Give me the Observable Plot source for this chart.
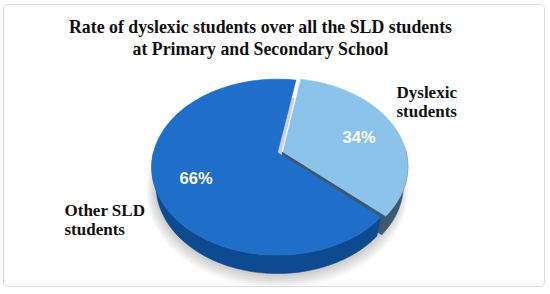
<!DOCTYPE html>
<html>
<head>
<meta charset="utf-8">
<script src="https://cdn.jsdelivr.net/npm/d3@7"></script>
<script src="https://cdn.jsdelivr.net/npm/@observablehq/plot@0.6"></script>
<style>
  html, body { margin: 0; padding: 0; background: #fff; }
  #wrap { position: relative; width: 550px; height: 294px; }
  #border { position: absolute; left: 3px; top: 4px; width: 542px; height: 283px;
            border: 1px solid #dedede; border-radius: 5px; box-sizing: border-box; }
  #chart { position: absolute; left: 0; top: 0; }
</style>
</head>
<body>
<div id="wrap"><div id="border"></div><div id="chart"></div></div>
<script>
// ---- data ----
const categories = ["Dyslexic students", "Other SLD students"];
const shares = [34, 66];
const pctLabels = ["34%", "66%"];
const categoryLabels = ["Dyslexic\nstudents", "Other SLD\nstudents"];
const titleLines = ["Rate of dyslexic students over all the SLD students", "at Primary and Secondary School"];

// ---- styling / geometry ----
const topColors = ["#8cc3ea", "#1f6fca"];
const wallColors = ["#3c5873", "#0e4a90"];
const explodeBy = [5, 0];
const labelShift = [[-2, 5], [4, 6]];
const W = 550, H = 294;
const cx = 277, cy = 152, R = 124, T = 27, D = 540;
const sinA = 0.69, cosA = Math.sqrt(1 - sinA * sinA);
const startAngle = 10;

function proj(r, deg, h, off) {
  const t = deg * Math.PI / 180;
  const xw = r * Math.sin(t) + off[0], yw = -r * Math.cos(t) + off[1];
  const c = yw * cosA + h * sinA, u = h * cosA - yw * sinA, s = D / (D - c);
  return {x: cx + xw * s, y: cy - u * s};
}
function arc(r, a0, a1, h, off) {
  const n = Math.max(2, Math.ceil(Math.abs(a1 - a0)));
  return d3.range(n + 1).map(i => proj(r, a0 + (a1 - a0) * i / n, h, off));
}

const total = d3.sum(shares);
let acc = startAngle;
const slices = shares.map((v, i) => {
  const a0 = acc, a1 = acc + v / total * 360; acc = a1;
  const mid = (a0 + a1) / 2, m = mid * Math.PI / 180;
  const off = [explodeBy[i] * Math.sin(m), -explodeBy[i] * Math.cos(m)];
  return {i, a0, a1, mid, off};
});

function frontWall(s) {
  const segs = [];
  for (const k of [0, 360]) {
    const b0 = Math.max(s.a0, 90 + k), b1 = Math.min(s.a1, 270 + k);
    if (b1 > b0) segs.push([b0, b1]);
  }
  return segs.map(([b0, b1]) => [...arc(R, b0, b1, 0, s.off), ...arc(R, b0, b1, -T, s.off).reverse()]);
}

const marks = [];
const poly = (pts, fill, extra = {}) => Plot.line([...pts, pts[0]], {x: "x", y: "y", fill, stroke: fill, strokeWidth: 0.6, ...extra});

// soft shadow
for (let k = 0; k < 5; k++) {
  const pts = arc(R + 2 + k * 2, 0, 360, -T - 2 - k, [0, 0]);
  marks.push(Plot.line(pts, {x: "x", y: "y", fill: "#000", fillOpacity: 0.04, stroke: "none"}));
}

for (const s of slices) {
  for (const w of frontWall(s)) marks.push(poly(w, wallColors[s.i]));
  for (const [a, dir] of [[s.a0, -1], [s.a1, 1]]) {
    const t = a * Math.PI / 180;
    const facing = dir * Math.sin(t) > 0.05;
    if (facing && s.i === 0) {
      const c0 = proj(0, a, 0, s.off), e0 = proj(R, a, 0, s.off), e1 = proj(R, a, -T, s.off), c1 = proj(0, a, -T, s.off);
      marks.push(poly([c0, e0, e1, c1], wallColors[s.i]));
    }
  }
  marks.push(poly([proj(0, 0, 0, s.off), ...arc(R, s.a0, s.a1, 0, s.off)], topColors[s.i]));
  if (s.i === 0) {
    marks.push(Plot.line([proj(0, s.a0, 0, s.off), proj(R, s.a0, 0, s.off)], {x: "x", y: "y", stroke: "#f4f8fc", strokeWidth: 1.3}));
  }
}

const pctData = slices.map(s => {
  const p = proj(0.7 * R, s.mid, 0, s.off);
  return {x: p.x + labelShift[s.i][0], y: p.y + labelShift[s.i][1], label: pctLabels[s.i]};
});
marks.push(Plot.text(pctData, {x: "x", y: "y", text: "label", fill: "white", fontSize: 16.5, fontWeight: "bold",
  fontFamily: "Liberation Sans, Arial, sans-serif"}));

const catPos = [{x: 396, y: 101}, {x: 64, y: 219}];
marks.push(Plot.text(categoryLabels.map((t, i) => ({...catPos[i], t})), {x: "x", y: "y", text: "t", textAnchor: "start",
  fontSize: 17, fontWeight: "bold", lineHeight: 1.1, fill: "#111", fontFamily: "Liberation Serif, serif"}));

marks.push(Plot.text([titleLines.join("\n")], {x: () => 260, y: () => 36.6, text: d => d, textAnchor: "middle",
  fontSize: 17.8, fontWeight: "bold", lineHeight: 1.24, fill: "#111", fontFamily: "Liberation Serif, serif"}));

const chart = Plot.plot({
  width: W, height: H, margin: 0,
  x: {type: "identity", axis: null},
  y: {type: "identity", axis: null},
  style: {background: "transparent", overflow: "visible"},
  marks
});
document.getElementById("chart").appendChild(chart);
</script>
</body>
</html>
